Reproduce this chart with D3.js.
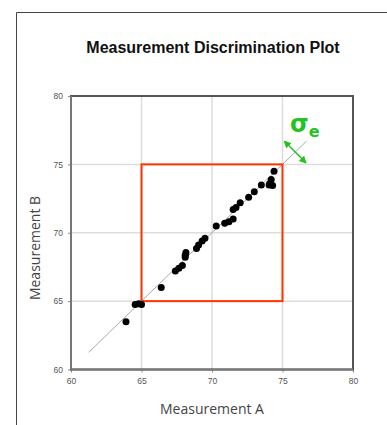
<!DOCTYPE html>
<html><head><meta charset="utf-8">
<script src="https://cdn.jsdelivr.net/npm/d3@7"></script>
<style>body{margin:0;background:#fff}svg{display:block}</style>
</head><body><svg id="c" width="387" height="425"></svg>
<script>
const title = "Measurement Discrimination Plot";
const xLabel = "Measurement A";
const yLabel = "Measurement B";
const ticks = [60, 65, 70, 75, 80];
const measA = [63.9, 64.55, 64.8, 65.0, 66.4, 67.4, 67.65, 67.9, 68.1, 68.1, 68.15, 68.9, 69.05, 69.3, 69.5, 70.3, 70.9, 71.2, 71.5, 71.5, 71.7, 72.0, 72.6, 73.0, 73.5, 74.05, 74.1, 74.2, 74.3, 74.4];
const measB = [63.5, 64.75, 64.8, 64.75, 66.0, 67.2, 67.4, 67.6, 68.2, 68.35, 68.55, 68.85, 69.1, 69.4, 69.6, 70.5, 70.7, 70.8, 71.0, 71.7, 71.85, 72.2, 72.6, 73.0, 73.5, 73.5, 73.6, 73.9, 73.45, 74.5];
const specBox = [65, 75];
const refLine = [61.25, 76.7];
const sigmaAt = 75.9;

const svg = d3.select("#c");
const x = d3.scaleLinear().domain([60, 80]).range([71, 353]);
const y = d3.scaleLinear().domain([60, 80]).range([369.5, 96]);

// outer frame
svg.append("path").attr("d", "M16.5,425V12.5H387").attr("fill", "none").attr("stroke", "#444").attr("stroke-width", 1);

svg.append("text").attr("x", 213).attr("y", 53).attr("text-anchor", "middle")
  .attr("font-family", "Liberation Sans, Arial, sans-serif").attr("font-weight", "bold")
  .attr("font-size", 16).attr("fill", "#111").text(title);

// grid
const g = svg.append("g");
g.selectAll(".gx").data(ticks.slice(1, -1)).join("line")
  .attr("x1", d => x(d)).attr("x2", d => x(d)).attr("y1", y(60)).attr("y2", y(80))
  .attr("stroke", "#ddd").attr("stroke-width", 1.5);
g.selectAll(".gy").data(ticks.slice(1, -1)).join("line")
  .attr("y1", d => y(d)).attr("y2", d => y(d)).attr("x1", x(60)).attr("x2", x(80))
  .attr("stroke", "#ddd").attr("stroke-width", 1.5);

// axes
const xAxis = d3.axisBottom(x).tickValues(ticks).tickSize(3).tickPadding(5);
const yAxis = d3.axisLeft(y).tickValues(ticks).tickSize(3).tickPadding(5);
const ax = svg.append("g").attr("transform", `translate(0,${y(60)})`).call(xAxis);
const ay = svg.append("g").attr("transform", `translate(${x(60)},0)`).call(yAxis);
[ax, ay].forEach(a => {
  a.select(".domain").remove();
  a.selectAll("line").attr("stroke", "#888");
  a.selectAll("text").attr("font-family", "Liberation Sans, Arial, sans-serif").attr("font-size", 8.5).attr("fill", "#555");
});

// plot frame
svg.append("rect").attr("x", x(60)).attr("y", y(80)).attr("width", x(80) - x(60)).attr("height", y(60) - y(80))
  .attr("fill", "none").attr("stroke", "#555").attr("stroke-width", 2);
svg.append("line").attr("x1", x(60)).attr("x2", x(60)).attr("y1", y(80)).attr("y2", y(60)).attr("stroke", "#777").attr("stroke-width", 2);
svg.append("line").attr("x1", x(60)).attr("x2", x(80)).attr("y1", y(60)).attr("y2", y(60)).attr("stroke", "#777").attr("stroke-width", 2);

// reference line
svg.append("line").attr("x1", x(refLine[0])).attr("y1", y(refLine[0])).attr("x2", x(refLine[1])).attr("y2", y(refLine[1]))
  .attr("stroke", "#aaa").attr("stroke-width", 1);

// spec box
svg.append("rect").attr("x", x(specBox[0])).attr("y", y(specBox[1]))
  .attr("width", x(specBox[1]) - x(specBox[0])).attr("height", y(specBox[0]) - y(specBox[1]))
  .attr("fill", "none").attr("stroke", "#ff3300").attr("stroke-width", 2);

// points
svg.selectAll(".pt").data(measA.map((a, i) => [a, measB[i]])).join("circle")
  .attr("cx", d => x(d[0])).attr("cy", d => y(d[1])).attr("r", 3.5).attr("fill", "#000");

// sigma arrow
const green = "#22c322";
const defs = svg.append("defs");
defs.append("marker").attr("id", "ah").attr("viewBox", "0 0 10 10").attr("refX", 8).attr("refY", 5)
  .attr("markerWidth", 5).attr("markerHeight", 5).attr("orient", "auto-start-reverse")
  .append("path").attr("d", "M0,0L10,5L0,10Z").attr("fill", green);
const cx = x(sigmaAt), cy = y(sigmaAt);
svg.append("line").attr("x1", cx - 10.5).attr("y1", cy - 10.5).attr("x2", cx + 10.5).attr("y2", cy + 10.5)
  .attr("stroke", green).attr("stroke-width", 1.5)
  .attr("marker-start", "url(#ah)").attr("marker-end", "url(#ah)");
const st = svg.append("text").attr("x", 290).attr("y", 132).attr("fill", green)
  .attr("font-family", "DejaVu Sans, sans-serif").attr("font-weight", "bold");
st.append("tspan").attr("font-size", 24).text("σ");
st.append("tspan").attr("font-size", 16).attr("dy", 5).text("e");

// axis titles
svg.append("text").attr("x", 212).attr("y", 414).attr("text-anchor", "middle")
  .attr("font-family", "Open Sans, sans-serif").attr("font-size", 14).attr("fill", "#444").text(xLabel);
svg.append("text").attr("transform", "translate(40,248) rotate(-90)").attr("text-anchor", "middle")
  .attr("font-family", "Open Sans, sans-serif").attr("font-size", 14).attr("fill", "#444").text(yLabel);
</script></body></html>
